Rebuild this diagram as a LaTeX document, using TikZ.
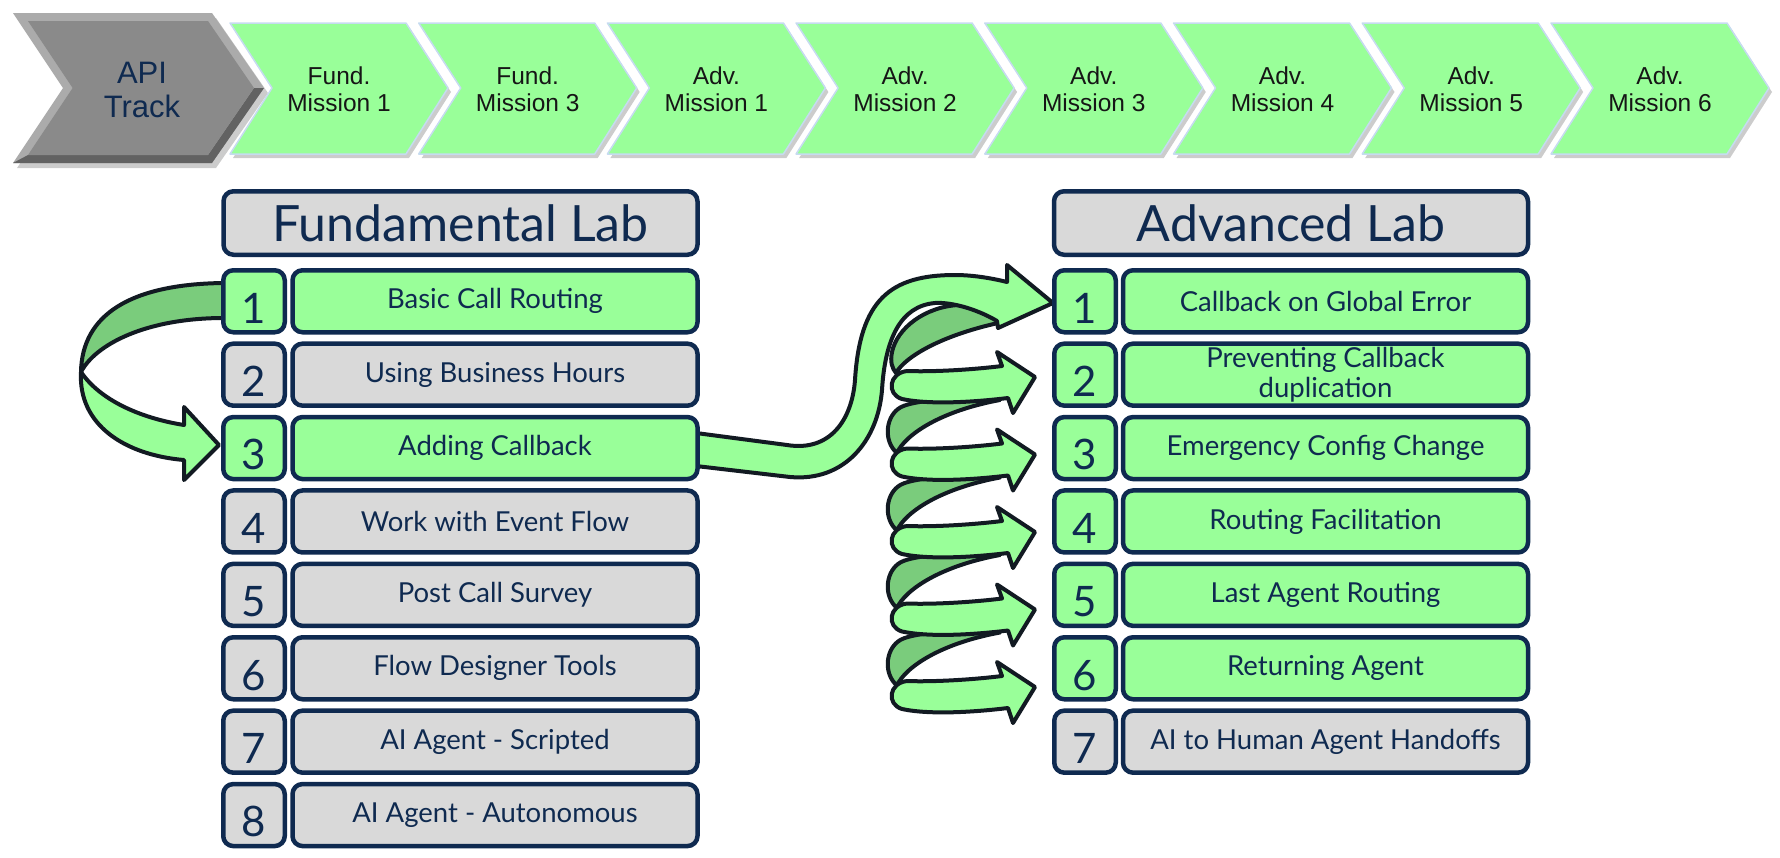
\documentclass[tikz,border=0pt]{standalone}
\usepackage{fontspec}
\setmainfont{Lato}
\newfontfamily\chevfont{Liberation Sans}
\usetikzlibrary{calc}
\definecolor{navy}{HTML}{0F2A50}
\definecolor{lgreen}{HTML}{99FF99}
\definecolor{dgreen}{HTML}{7ACC7C}
\definecolor{boxgray}{HTML}{D9D9D9}
\definecolor{inkline}{HTML}{121A22}
\definecolor{chevedge}{HTML}{C6DBF0}
\definecolor{chevtext}{HTML}{161616}
\definecolor{apilight}{HTML}{ABABAB}
\definecolor{apidark}{HTML}{626262}
\definecolor{apiface}{HTML}{8A8A8A}
\begin{document}
\begin{tikzpicture}[x=1pt,y=-1pt,line join=round,
  chevshape/.style={fill=lgreen, draw=chevedge, line width=1.5pt},
  chevshadow/.style={fill=black, opacity=0.2},
  chevtxt/.style={align=center, text=chevtext, font=\chevfont\fontsize{24.5}{27}\selectfont, inner sep=0pt},
  apitxt/.style={align=center, text=navy, font=\chevfont\fontsize{31}{34}\selectfont, inner sep=0pt},
  labbox/.style={draw=navy, line width=4.5pt, rounded corners=10pt, inner sep=0pt, minimum height=62pt},
  headbox/.style={labbox, fill=boxgray, minimum height=63.5pt, minimum width=474pt, text=navy, font=\fontsize{50}{56}\selectfont},
  numbox/.style={labbox, minimum width=61.5pt},
  itembox/.style={labbox, minimum width=405pt, text=navy, align=center, font=\fontsize{27.5}{30.5}\selectfont},
  digit/.style={anchor=base, text=navy, inner sep=0pt, font=\fontsize{42}{42}\selectfont},
  ribbonlight/.style={fill=lgreen, draw=inkline, line width=4pt},
  ribbondark/.style={fill=dgreen, draw=inkline, line width=4pt}
]
\useasboundingbox (0,0) rectangle (1780,857);

% ---------- top chevrons ----------
\fill[chevshadow] (17,18) -- (216,18) -- (268,93) -- (216,168) -- (17,168) -- (67,93) -- cycle;
\fill[apilight] (13,13) -- (212,13) -- (264,88) -- (212,163) -- (13,163) -- (63,88) -- cycle;
\fill[apidark] (13,163) -- (212,163) -- (264,88) -- (254,88) -- (208,155) -- (28,155) -- cycle;
\fill[apiface] (28,21) -- (208,21) -- (254,88) -- (208,155) -- (28,155) -- (72.6,88) -- cycle;
\node[apitxt] (api) at (142,90) {API\\Track};

\foreach \L/\a/\b [count=\i] in {230/Fund./Mission 1,418.7/Fund./Mission 3,607.4/Adv./Mission 1,796.1/Adv./Mission 2,984.8/Adv./Mission 3,1173.5/Adv./Mission 4,1362.2/Adv./Mission 5,1551/Adv./Mission 6}{
  \fill[chevshadow] (\L+3,27) -- ++(176,0) -- ++(42,65) -- ++(-42,66) -- ++(-176,0) -- ++(42,-66) -- cycle;
  \filldraw[chevshape] (\L,23) -- ++(176,0) -- ++(42,65) -- ++(-42,66) -- ++(-176,0) -- ++(42,-66) -- cycle;
  \node[chevtxt] (m\i) at (\L+109,89) {\a\\\b};
}

% ---------- left curved arrow (1 -> 3) ----------
\filldraw[ribbondark] (224,283) .. controls (130,284) and (82,315) .. (81,372)
  .. controls (95,345) and (145,318) .. (224,318) -- cycle;
\filldraw[ribbonlight] (81,372) .. controls (78,425) and (125,455) .. (184,460)
  -- (184,480) -- (219,445) -- (184,407) -- (184,425)
  .. controls (140,418) and (100,400) .. (81,372) -- cycle;

% ---------- helix back bands ----------
\filldraw[ribbondark] (998,318) .. controls (985,309) and (970,305) .. (958,305)
  .. controls (925,307) and (897,328) .. (892,352)
  .. controls (890,362) and (892,368) .. (896,373)
  .. controls (905,357) and (940,336) .. (998,323) -- cycle;
\foreach \T in {377,454.5,532,609.5}{
  \filldraw[ribbondark] (1000,\T+18) .. controls (960,\T+22) and (910,\T+22) .. (898,\T+32)
    .. controls (885,\T+42) and (884,\T+65) .. (897,\T+76)
    .. controls (905,\T+58) and (940,\T+34) .. (1000,\T+23) -- cycle;
}

% ---------- S arrow (Fund 3 -> Adv 1) ----------
\filldraw[ribbonlight] (696,433) -- (787,445) .. controls (830,452) and (852,420) .. (855,380)
  .. controls (860,300) and (890,275) .. (955,275)
  .. controls (975,275) and (995,279) .. (1007,282)
  -- (1007,265) -- (1053,303) -- (998,328) -- (997,321)
  .. controls (975,308) and (950,302) .. (935,303)
  .. controls (900,306) and (885,340) .. (882,390)
  .. controls (878,440) and (845,482) .. (790,477) -- (696,466) -- cycle;

% ---------- helix front loops ----------
\foreach \T in {377,454.5,532,609.5,687}{
  \filldraw[ribbonlight] (1002,\T-11) .. controls (970,\T-7) and (930,\T-5) .. (907,\T-6)
    .. controls (889,\T-4) and (886,\T+17) .. (902,\T+22)
    .. controls (930,\T+28) and (975,\T+25) .. (1008,\T+21)
    -- (1013,\T+36) -- (1035,\T) -- (997,\T-25) -- cycle;
}

% ---------- Fundamental Lab ----------
\node[headbox] (fhead) at (460.5,223) {Fundamental Lab};
\foreach \k/\c/\t in {1/lgreen/Basic Call Routing,2/boxgray/Using Business Hours,3/lgreen/Adding Callback,4/boxgray/Work with Event Flow,5/boxgray/Post Call Survey,6/boxgray/Flow Designer Tools,7/boxgray/AI Agent - Scripted,8/boxgray/AI Agent - Autonomous}{
  \pgfmathsetmacro{\yc}{301.25+73.4*(\k-1)}
  \node[numbox, fill=\c] (fn\k) at (254,\yc) {};
  \node[itembox, fill=\c] (ft\k) at (495,\yc) {\t};
  \node[digit] (fd\k) at ([yshift=11.5pt]fn\k.south) {\k};
}

% ---------- Advanced Lab ----------
\node[headbox] (ahead) at (1291,223) {Advanced Lab};
\foreach \k/\c/\t in {1/lgreen/Callback on Global Error,2/lgreen/{Preventing Callback\\duplication},3/lgreen/Emergency Config Change,4/lgreen/Routing Facilitation,5/lgreen/Last Agent Routing,6/lgreen/Returning Agent,7/boxgray/AI to Human Agent Handoffs}{
  \pgfmathsetmacro{\yc}{301.25+73.4*(\k-1)}
  \node[numbox, fill=\c] (an\k) at (1085,\yc) {};
  \node[itembox, fill=\c] (at\k) at (1325.5,\yc) {\t};
  \node[digit] (ad\k) at ([yshift=11.5pt]an\k.south) {\k};
}
\end{tikzpicture}
\end{document}
